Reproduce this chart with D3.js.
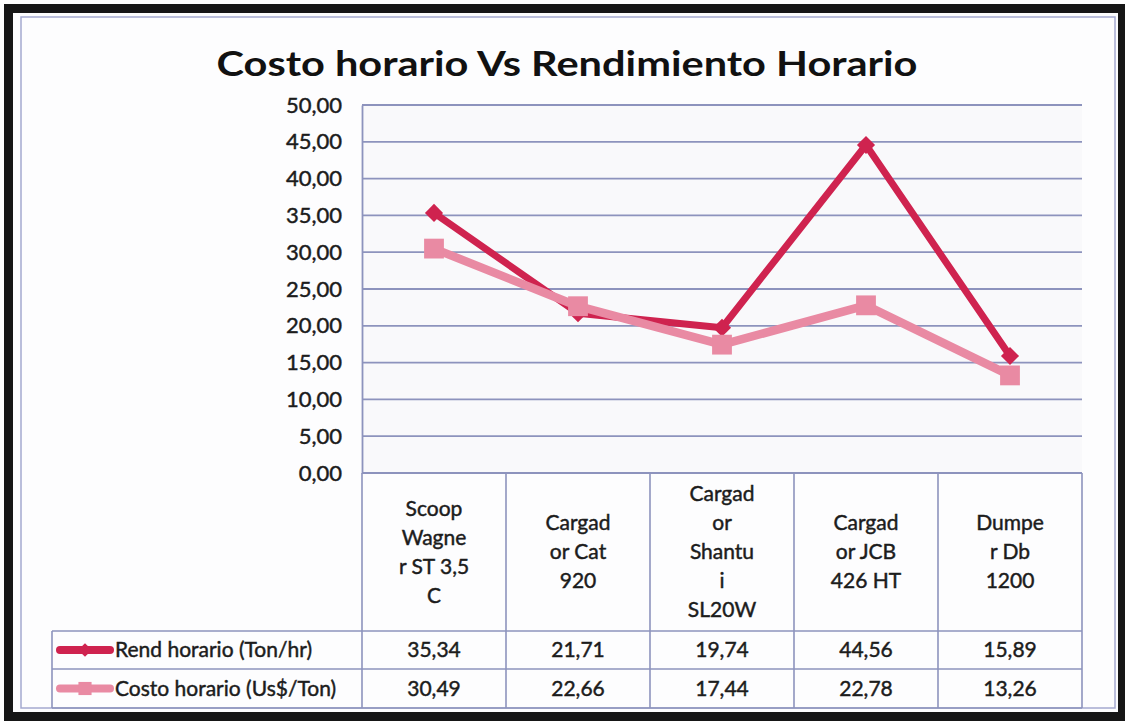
<!DOCTYPE html>
<html>
<head>
<meta charset="utf-8">
<script src="https://cdn.jsdelivr.net/npm/d3@7"></script>
<style>
  body { margin: 0; background: #fff; }
  svg { display: block; font-family: Lato, "DejaVu Sans", sans-serif; }
  .lbl { fill: #1c1c1c; stroke: #1c1c1c; stroke-width: 0.45px; }
</style>
</head>
<body>
<div id="main"></div>
<script>
// chart values
const categories = ["Scoop Wagner ST 3,5 C", "Cargador Cat 920", "Cargador Shantui SL20W", "Cargador JCB 426 HT", "Dumper Db 1200"];
// wrapped header text as it appears in the table
const categoryLines = [
  ["Scoop", "Wagne", "r ST 3,5", "C"],
  ["Cargad", "or Cat", "920"],
  ["Cargad", "or", "Shantu", "i", "SL20W"],
  ["Cargad", "or JCB", "426 HT"],
  ["Dumpe", "r Db", "1200"]
];
const rendHorario = [35.34, 21.71, 19.74, 44.56, 15.89];
const costoHorario = [30.49, 22.66, 17.44, 22.78, 13.26];
const yTicks = [0, 5, 10, 15, 20, 25, 30, 35, 40, 45, 50];

const width = 1125;
const height = 721;

const plotLeft = 362, plotRight = 1082, plotTop = 105, plotBottom = 473;
const tableLeft = 52, row1 = 631, row2 = 669, row3 = 708;

const gridColor = "#8d93bd";
const redColor = "#cf234f";
const pinkColor = "#e98aa3";

const fmt = d3.formatLocale({ decimal: ",", thousands: ".", grouping: [3], currency: ["", ""] }).format(".2f");

const svg = d3.select("#main")
  .append("svg")
  .attr("width", width)
  .attr("height", height);

// photo frame
svg.append("rect")
  .attr("x", 4).attr("y", 4)
  .attr("width", 1121).attr("height", 717)
  .attr("fill", "#161616");
svg.append("rect")
  .attr("x", 13).attr("y", 13)
  .attr("width", 1105).attr("height", 699)
  .attr("fill", "#fdfdfe");

// chart border
svg.append("rect")
  .attr("x", 21).attr("y", 17)
  .attr("width", 1094).attr("height", 691)
  .attr("fill", "none")
  .attr("stroke", "#a4a9cf")
  .attr("stroke-width", 1.5);

// title
svg.append("text")
  .attr("x", 567)
  .attr("y", 76)
  .attr("text-anchor", "middle")
  .attr("font-size", 34)
  .attr("font-weight", "bold")
  .attr("fill", "#111")
  .attr("textLength", 701)
  .attr("lengthAdjust", "spacingAndGlyphs")
  .text("Costo horario Vs Rendimiento Horario");

const xScale = d3.scaleBand()
  .domain(categories)
  .range([plotLeft, plotRight]);

const yScale = d3.scaleLinear()
  .domain([0, 50])
  .range([plotBottom, plotTop]);

// plot background
svg.append("rect")
  .attr("x", plotLeft).attr("y", plotTop)
  .attr("width", plotRight - plotLeft).attr("height", plotBottom - plotTop)
  .attr("fill", "#f9f9fb");

// gridlines
svg.append("g")
  .selectAll("line")
  .data(yTicks)
  .enter()
  .append("line")
  .attr("x1", plotLeft)
  .attr("x2", plotRight)
  .attr("y1", d => yScale(d))
  .attr("y2", d => yScale(d))
  .attr("stroke", gridColor)
  .attr("stroke-width", 1.8);

// y axis
const yAxis = d3.axisLeft(yScale)
  .tickValues(yTicks)
  .tickFormat(fmt)
  .tickSize(0)
  .tickPadding(20);

svg.append("g")
  .attr("id", "y-axis")
  .attr("transform", "translate(" + plotLeft + ",0)")
  .call(yAxis)
  .call(g => g.select(".domain").attr("stroke", gridColor).attr("stroke-width", 1.8))
  .call(g => g.selectAll("text")
    .attr("class", "lbl")
    .attr("font-size", 22)
    .attr("font-family", "Lato, sans-serif"));

// data table
const table = svg.append("g").attr("stroke", gridColor).attr("stroke-width", 1.6);

[row1, row2, row3].forEach(y => {
  table.append("line")
    .attr("x1", tableLeft).attr("x2", plotRight)
    .attr("y1", y).attr("y2", y);
});

table.append("line")
  .attr("x1", tableLeft).attr("x2", tableLeft)
  .attr("y1", row1).attr("y2", row3);

const colEdges = categories.map(c => xScale(c)).concat([plotRight]);
table.selectAll(".col")
  .data(colEdges)
  .enter()
  .append("line")
  .attr("x1", d => d).attr("x2", d => d)
  .attr("y1", plotBottom).attr("y2", row3);

// header labels
const lineH = 29;
const header = svg.append("g")
  .selectAll("g")
  .data(categories)
  .enter()
  .append("g");

header.each(function(c, i) {
  const lines = categoryLines[i];
  const cx = xScale(c) + xScale.bandwidth() / 2;
  const cy = (plotBottom + row1) / 2;
  const y0 = cy - (lines.length - 1) * lineH / 2;
  d3.select(this).selectAll("text")
    .data(lines)
    .enter()
    .append("text")
    .attr("class", "lbl")
    .attr("x", cx)
    .attr("y", (d, j) => y0 + j * lineH)
    .attr("dy", "0.35em")
    .attr("text-anchor", "middle")
    .attr("font-size", 21)
    .text(d => d);
});

// series definitions
const series = [
  { name: "Rend horario (Ton/hr)", values: rendHorario, color: redColor, lw: 7, marker: "diamond", y: (row1 + row2) / 2 },
  { name: "Costo horario (Us$/Ton)", values: costoHorario, color: pinkColor, lw: 8.5, marker: "square", y: (row2 + row3) / 2 }
];

// table values
series.forEach(s => {
  svg.append("g")
    .selectAll("text")
    .data(s.values)
    .enter()
    .append("text")
    .attr("class", "lbl")
    .attr("x", (d, i) => xScale(categories[i]) + xScale.bandwidth() / 2)
    .attr("y", s.y)
    .attr("dy", "0.35em")
    .attr("text-anchor", "middle")
    .attr("font-size", 21)
    .text(d => fmt(d));

  svg.append("text")
    .attr("class", "lbl")
    .attr("x", 115)
    .attr("y", s.y)
    .attr("dy", "0.35em")
    .attr("font-size", 21)
    .text(s.name);
});

const markerPath = (type) => type === "diamond"
  ? d3.symbol().type(d3.symbolDiamond2).size(210)()
  : d3.symbol().type(d3.symbolSquare2).size(500)();

const line = d3.line()
  .x((d, i) => xScale(categories[i]) + xScale.bandwidth() / 2)
  .y(d => yScale(d));

// lines and markers, series in order
series.forEach(s => {
  svg.append("path")
    .datum(s.values)
    .attr("d", line)
    .attr("fill", "none")
    .attr("stroke", s.color)
    .attr("stroke-width", s.lw)
    .attr("stroke-linejoin", "round");

  svg.append("g")
    .selectAll("path")
    .data(s.values)
    .enter()
    .append("path")
    .attr("transform", (d, i) => "translate(" + (xScale(categories[i]) + xScale.bandwidth() / 2) + "," + yScale(d) + ")")
    .attr("d", markerPath(s.marker))
    .attr("fill", s.color);

  // legend key in the table
  svg.append("line")
    .attr("x1", 60).attr("x2", 110)
    .attr("y1", s.y).attr("y2", s.y)
    .attr("stroke", s.color)
    .attr("stroke-width", 8)
    .attr("stroke-linecap", "round");
  svg.append("path")
    .attr("transform", "translate(85," + s.y + ")")
    .attr("d", s.marker === "diamond"
      ? d3.symbol().type(d3.symbolDiamond2).size(120)()
      : d3.symbol().type(d3.symbolSquare2).size(220)())
    .attr("fill", s.color);
});
</script>
</body>
</html>
